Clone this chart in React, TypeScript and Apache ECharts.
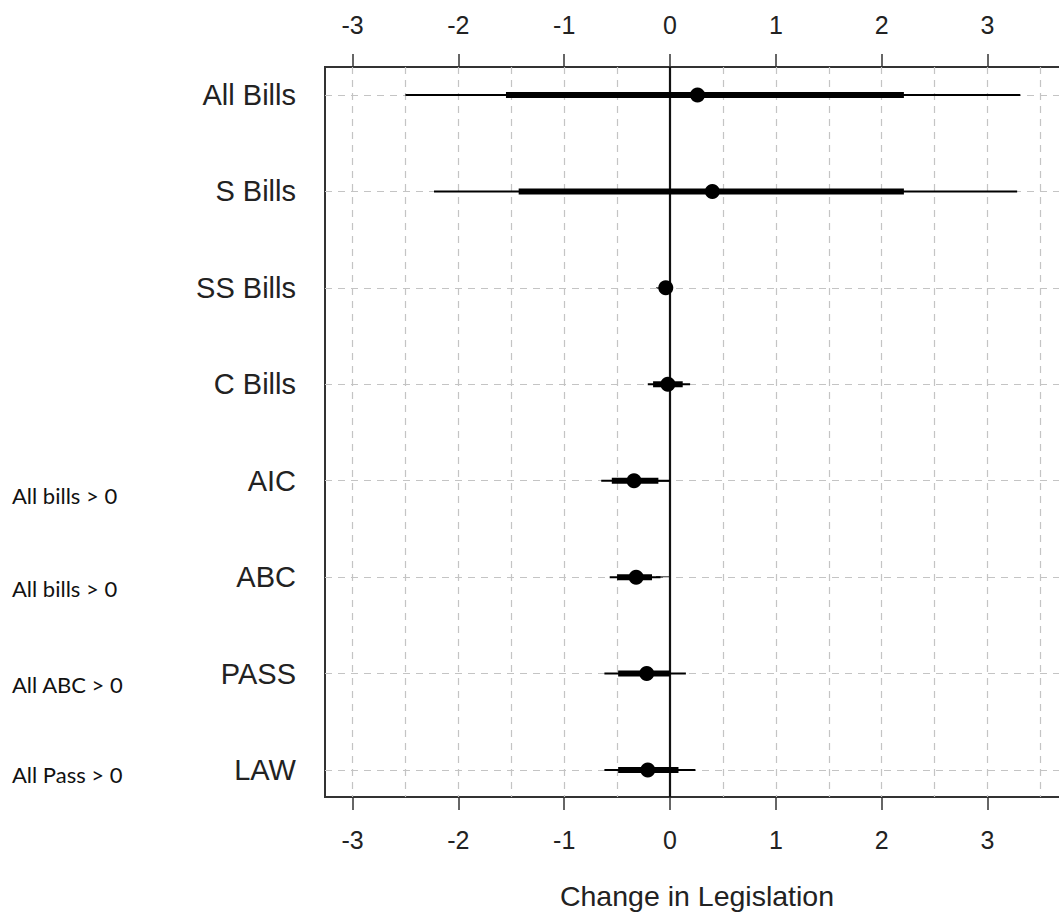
import React, { useEffect, useRef } from "react";
import * as echarts from "echarts";

const categories = ["All Bills", "S Bills", "SS Bills", "C Bills", "AIC", "ABC", "PASS", "LAW"];
const estimates = [0.26, 0.4, -0.04, -0.02, -0.34, -0.32, -0.22, -0.21];
const lower95 = [-2.5, -2.23, -0.06, -0.21, -0.65, -0.57, -0.62, -0.62];
const upper95 = [3.31, 3.28, -0.02, 0.19, 0.0, -0.09, 0.15, 0.24];
const lower50 = [-1.55, -1.43, -0.05, -0.16, -0.55, -0.5, -0.49, -0.49];
const upper50 = [2.21, 2.21, -0.03, 0.12, -0.11, -0.17, 0.0, 0.08];
const xTicks = [-3, -2, -1, 0, 1, 2, 3];
const xGridLines = [-3, -2.5, -2, -1.5, -1, -0.5, 0.5, 1, 1.5, 2, 2.5, 3, 3.5];
const rows = [1, 2, 3, 4, 5, 6, 7, 8];
const sideNotes = ["All bills > 0", "All bills > 0", "All ABC > 0", "All Pass > 0"];
const sideNoteY = [497, 590, 686, 776];
const xTitle = "Change in Legislation";

const FONT = "'Liberation Sans', Arial, sans-serif";

export default function App() {
  const ref = useRef<HTMLDivElement>(null);
  useEffect(() => {
    if (!ref.current) return;
    const chart = echarts.init(ref.current, undefined, { renderer: "svg" });
    const data = categories.map((c, i) => [rows[i], estimates[i], lower95[i], upper95[i], lower50[i], upper50[i]]);
    const xCommon = {
      type: "value",
      min: -3.26,
      max: 3.77,
      axisLine: { show: false },
      splitLine: { show: false },
      axisTick: { show: true, customValues: xTicks, length: 13, lineStyle: { color: "#333", width: 1.5 } },
      axisLabel: { customValues: xTicks, margin: 30, fontSize: 25, color: "#222", fontFamily: FONT },
    };
    const option: any = {
      animation: false,
      backgroundColor: "#fff",
      grid: { left: 325, top: 67, width: 744, height: 730, show: true, borderColor: "#333", borderWidth: 2, backgroundColor: "transparent" },
      xAxis: [
        {
          ...xCommon,
          position: "bottom",
          name: xTitle,
          nameLocation: "middle",
          nameGap: 84,
          nameTextStyle: { fontSize: 28.5, color: "#222", fontFamily: FONT },
        },
        { ...xCommon, position: "top" },
      ],
      yAxis: {
        type: "value",
        inverse: true,
        min: 0.71,
        max: 8.28,
        axisLine: { show: false },
        splitLine: { show: false },
        axisTick: { show: true, customValues: rows, length: 14, lineStyle: { color: "#333", width: 1.5 } },
        axisLabel: {
          customValues: rows,
          margin: 29,
          fontSize: 29,
          color: "#222",
          fontFamily: FONT,
          formatter: (v: number) => categories[Math.round(v) - 1] ?? "",
        },
      },
      graphic: sideNotes.map((t, i) => ({
        type: "text",
        left: 12,
        top: sideNoteY[i] - 13,
        style: { text: t, fontSize: 22, fontFamily: "Lato, 'Open Sans', sans-serif", fill: "#111" },
      })),
      series: [
        {
          type: "line",
          data: [],
          silent: true,
          z: 1,
          markLine: {
            silent: true,
            symbol: "none",
            label: { show: false },
            lineStyle: { color: "#c4c4c4", type: [7, 6], width: 1.2 },
            data: [
              ...xGridLines.map((v) => ({ xAxis: v })),
              ...rows.map((r) => ({ yAxis: r })),
            ],
          },
        },
        {
          type: "line",
          data: [],
          silent: true,
          z: 2,
          markLine: {
            silent: true,
            symbol: "none",
            label: { show: false },
            lineStyle: { color: "#111", type: "solid", width: 2.2 },
            data: [{ xAxis: 0 }],
          },
        },
        {
          type: "custom",
          z: 10,
          data,
          encode: { x: [1, 2, 3, 4, 5], y: 0 },
          renderItem: (params: any, api: any) => {
            const r = api.value(0);
            const p = api.coord([api.value(1), r]);
            const a = api.coord([api.value(2), r]);
            const b = api.coord([api.value(3), r]);
            const c = api.coord([api.value(4), r]);
            const d = api.coord([api.value(5), r]);
            return {
              type: "group",
              children: [
                { type: "line", shape: { x1: a[0], y1: a[1], x2: b[0], y2: b[1] }, style: { stroke: "#000", lineWidth: 2 } },
                { type: "line", shape: { x1: c[0], y1: c[1], x2: d[0], y2: d[1] }, style: { stroke: "#000", lineWidth: 6 } },
                { type: "circle", shape: { cx: p[0], cy: p[1], r: 7.5 }, style: { fill: "#000" } },
              ],
            };
          },
        },
      ],
    };
    chart.setOption(option);
    return () => chart.dispose();
  }, []);
  return (
    <div style={{ position: "absolute", left: 0, top: 0, width: 1059, height: 915, overflow: "hidden", background: "#fff" }}>
      <div ref={ref} style={{ width: 1100, height: 915 }} />
    </div>
  );
}
